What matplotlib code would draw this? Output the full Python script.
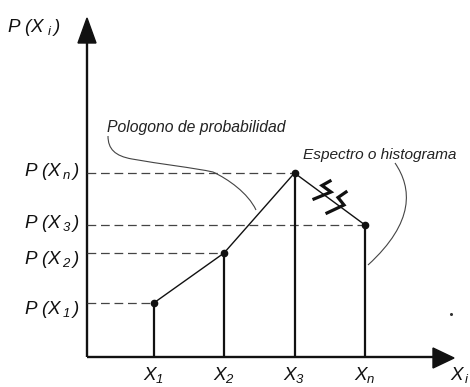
"""
Poligono de probabilidad / espectro de una variable discreta
"""

import matplotlib.pyplot as plt
from matplotlib.path import Path
from matplotlib.patches import PathPatch, Polygon

plt.rcParams['font.family'] = ['Liberation Sans', 'DejaVu Sans']
plt.rcParams['mathtext.fontset'] = 'custom'
plt.rcParams['mathtext.rm'] = 'Liberation Sans:italic'
plt.rcParams['mathtext.it'] = 'Liberation Sans:italic'

# values (schematic)
x_vals = [1, 2, 3, 4]
probs = [0.117, 0.226, 0.400, 0.287]
x_labels = [r'$X_{1}$', r'$X_{2}$', r'$X_{3}$', r'$X_{n}$']
# labels on the vertical axis, from bottom to top
y_labels = [r'$P\ (X_{\,1}\,)$', r'$P\ (X_{\,2}\,)$', r'$P\ (X_{\,3}\,)$', r'$P\ (X_{\,n}\,)$']

W, H = 470, 387
fig = plt.figure(figsize=(W / 100, H / 100), dpi=100)
ax = fig.add_axes([0, 0, 1, 1])
ax.set_axis_off()

# pixel <-> data helpers (origin of the drawing at pixel 83/357)
SX, OX = 70.5, 83
SY, OY = 460, 357


def d(px, py):
    return (px - OX) / SX, (OY - py) / SY


ax.set_xlim(d(0, 0)[0], d(W, 0)[0])
ax.set_ylim(d(0, H)[1], d(0, 0)[1])

ink = '#111111'
x0 = d(87, 0)[0]
fs = 13.5

# axes with arrow heads
ax.plot([x0, x0], [0, d(0, 43)[1]], color=ink, lw=1.7, solid_capstyle='butt')
ax.plot([x0, d(433, 0)[0]], [0, 0], color=ink, lw=1.7, solid_capstyle='butt')
ax.add_patch(Polygon([d(87, 18), d(78, 43), d(96, 43)], closed=True, color=ink))
ax.add_patch(Polygon([d(454, 358), d(433, 348), d(433, 368)], closed=True, color=ink))

# dashed guides
for xv, pv in zip(x_vals, probs):
    ln, = ax.plot([x0, xv], [pv, pv], color='#444444', lw=0.9)
    ln.set_dashes((7, 3.8))

# spectrum bars
ax.vlines(x_vals, 0, probs, color=ink, lw=1.6)

# polygon
ax.plot(x_vals, probs, color=ink, lw=1.0)
ax.plot(x_vals, probs, 'o', color=ink, ms=4.5)

# break marks on the last segment
marks = [
    [(330, 181), (322, 185.5), (331, 192), (314, 199)],
    [(346, 192), (338, 197.5), (344, 205), (327, 213)],
]
for m in marks:
    ax.plot(*zip(*[d(*p) for p in m]), color=ink, lw=2.3, solid_joinstyle='miter')

# labels
for xv, lab in zip(x_vals, x_labels):
    ax.text(xv, d(0, 375)[1], lab, ha='center', va='center', fontsize=fs, color=ink)
ax.text(*d(450, 375), r'$X_{\,i}$', ha='left', va='center', fontsize=fs, color=ink)

label_y = [309, 260, 223, 172]
for pv, ly, lab in zip(sorted(probs), label_y, y_labels):
    ax.text(d(80, 0)[0], d(0, ly)[1], lab, ha='right', va='center', fontsize=fs, color=ink)
ax.text(*d(7, 27), r'$P\ (X_{\ i}\,)$', ha='left', va='center', fontsize=fs, color=ink)

# annotations
ax.text(*d(107, 128), 'Pologono de probabilidad', ha='left', va='center',
        fontsize=11.3, style='italic', color='#222222')
ax.text(*d(303, 155), 'Espectro o histograma', ha='left', va='center',
        fontsize=11.1, style='italic', color='#222222')

c4 = [Path.MOVETO, Path.CURVE4, Path.CURVE4, Path.CURVE4,
      Path.CURVE4, Path.CURVE4, Path.CURVE4, Path.CURVE4, Path.CURVE4, Path.CURVE4]
poly_lead = [(108, 136), (108, 149), (115, 156), (132, 159),
             (160, 164), (195, 168), (213, 172),
             (228, 179), (248, 193), (256, 210)]
ax.add_patch(PathPatch(Path([d(*p) for p in poly_lead], c4), fill=False,
                       color='#444444', lw=0.8))
spec_lead = [(395, 163), (412, 188), (415, 222), (368, 265)]
ax.add_patch(PathPatch(Path([d(*p) for p in spec_lead], c4[:4]), fill=False,
                       color='#444444', lw=0.8))

# stray dot in the original
ax.plot(*d(451, 314), 'o', color='#333333', ms=1.2)

fig.savefig('out.png', dpi=100)
